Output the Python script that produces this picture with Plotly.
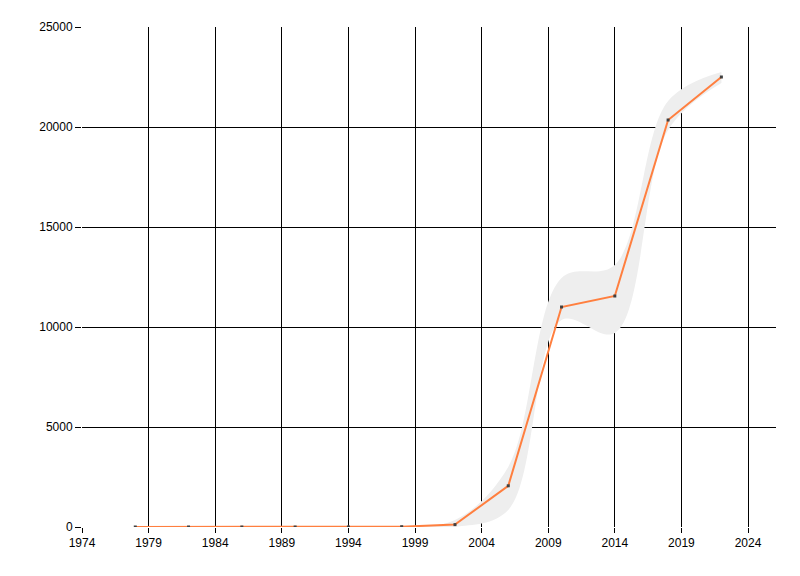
import plotly.graph_objects as go

# data
years = [1978, 1982, 1986, 1990, 1994, 1998, 2002, 2006, 2010, 2014, 2018, 2022]
values = [0, 0, 0, 0, 2, 15, 120, 2060, 11000, 11550, 20350, 22500]
band_low = [0, 0, 0, 0, 0, 0, 0, 850, 10350, 9700, 19850, 22200]
band_high = [0, 0, 0, 0, 5, 30, 350, 3000, 12450, 13100, 21300, 22750]

x_ticks = list(range(1974, 2025, 5))
y_ticks = [0, 5000, 10000, 15000, 20000, 25000]

fig = go.Figure()

# grey confidence band
fig.add_trace(go.Scatter(
    x=years, y=band_low, mode="lines",
    line=dict(width=0, shape="spline", smoothing=1),
    hoverinfo="skip", showlegend=False,
))
fig.add_trace(go.Scatter(
    x=years, y=band_high, mode="lines",
    line=dict(width=0, shape="spline", smoothing=1),
    fill="tonexty", fillcolor="#eeeeee",
    hoverinfo="skip", showlegend=False,
))

# main series
fig.add_trace(go.Scatter(
    x=years, y=values, mode="lines+markers",
    line=dict(color="#ff7f3f", width=2),
    marker=dict(symbol="square", size=3, color="#404040"),
    showlegend=False,
))

axis_font = dict(family="Liberation Sans Narrow, Liberation Sans, Arial, sans-serif",
                 size=12, color="#000000")

fig.update_xaxes(
    range=[1974, 2026.1],
    tickvals=x_ticks,
    ticktext=[str(t) for t in x_ticks],
    showgrid=True, gridcolor="#000000", gridwidth=1,
    zeroline=False,
    showline=False,
    ticks="outside", ticklen=5, tickcolor="#000000",
    tickfont=axis_font,
)
fig.update_yaxes(
    range=[0, 25000],
    tickvals=y_ticks,
    ticktext=[str(t) for t in y_ticks],
    showgrid=True, gridcolor="#000000", gridwidth=1,
    zeroline=False,
    showline=False,
    ticks="outside", ticklen=6, tickcolor="#000000",
    tickfont=axis_font,
)

# page body adds 8px, so margins are shifted by that
fig.update_layout(
    width=800, height=576,
    margin=dict(l=74, r=32, t=19, b=57),
    paper_bgcolor="#ffffff",
    plot_bgcolor="#ffffff",
)

fig.write_html("out.html")
